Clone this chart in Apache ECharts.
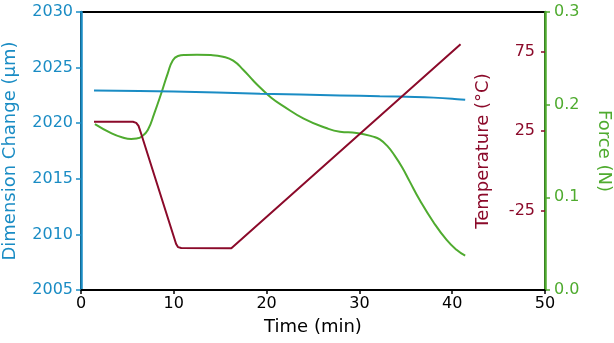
<!DOCTYPE html>
<html>
<head>
<meta charset="utf-8">
<script src="https://cdn.jsdelivr.net/npm/echarts@6/dist/echarts.min.js"></script>
<style>
html,body{margin:0;padding:0;background:#fff;}
#chart{width:614px;height:343px;}
</style>
</head>
<body>
<div id="chart"></div>
<script>
// ---- Data ----
const dimTime  = [1.4, 10, 19.3, 27.9, 32.2, 36, 38, 40, 41.4];
const dimValue = [2022.95, 2022.85, 2022.65, 2022.5, 2022.42, 2022.36, 2022.3, 2022.2, 2022.1];

const tempTime  = [1.4, 5.6, 5.95, 6.2, 6.45, 10.25, 10.45, 10.8, 16.2, 40.9];
const tempValue = [30.9, 30.9, 30.2, 28.3, 24.0, -46.0, -48.0, -48.6, -48.7, 79.7];

const forceTime  = [1.5, 3.3, 4.5, 5.4, 6.0, 6.5, 7.2, 7.9, 8.65, 9.35, 9.9, 10.45, 11.2, 12.5, 14, 15.3, 16.4, 17.5, 18.6, 19.3, 20.5, 21.8, 24.0, 26.5, 27.9, 29.7, 31.5, 32.2, 33.0, 33.8, 34.6, 35.4, 36.5, 37.95, 39.4, 40.5, 41.4];
const forceValue = [0.179, 0.169, 0.1645, 0.163, 0.1635, 0.1654, 0.1727, 0.1907, 0.2123, 0.2338, 0.248, 0.2525, 0.2536, 0.2538, 0.2535, 0.2518, 0.2475, 0.2374, 0.2255, 0.2185, 0.2075, 0.1985, 0.185, 0.1745, 0.1708, 0.1695, 0.1655, 0.1625, 0.1555, 0.145, 0.1325, 0.1175, 0.0971, 0.0737, 0.054, 0.0432, 0.037];

const tempTicks = [-25, 25, 75];

const BLUE = '#1a8cc4';
const RED = '#8b0a2a';
const GREEN = '#4fab2f';
const FONT = 'DejaVu Sans';

const pairs = (xs, ys) => xs.map((x, i) => [x, ys[i]]);

const chart = echarts.init(document.getElementById('chart'), null, {renderer: 'canvas'});
chart.setOption({
  animation: false,
  textStyle: {fontFamily: FONT},
  grid: {left: 81, right: 69, top: 12, bottom: 53, containLabel: false, outerBoundsMode: 'none',
         show: true, borderColor: '#000', borderWidth: 2, backgroundColor: 'transparent'},
  xAxis: {
    type: 'value', min: 0, max: 50, interval: 10,
    name: 'Time (min)', nameLocation: 'middle', nameGap: 28,
    nameTextStyle: {color: '#000', fontSize: 18, fontFamily: FONT},
    axisLine: {onZero: false, lineStyle: {color: '#000', width: 2}},
    axisTick: {length: 4, lineStyle: {color: '#000', width: 1.5}},
    axisLabel: {color: '#000', fontSize: 16, margin: 6, fontFamily: FONT},
    splitLine: {show: false}
  },
  yAxis: [
    {
      type: 'value', position: 'left', min: 2005, max: 2030, interval: 5,
      name: 'Dimension Change (µm)', nameLocation: 'middle', nameGap: 62,
      nameTextStyle: {color: BLUE, fontSize: 18, fontFamily: FONT},
      axisLine: {show: true, onZero: false, lineStyle: {color: BLUE, width: 2.5}},
      axisTick: {show: true, length: 5, lineStyle: {color: BLUE, width: 1.5}},
      axisLabel: {color: BLUE, fontSize: 16, margin: 8, fontFamily: FONT, formatter: v => String(v)},
      splitLine: {show: false}
    },
    {
      type: 'value', position: 'right', min: -75, max: 100, interval: 50,
      name: 'Temperature (°C)', nameLocation: 'middle', nameGap: -71, nameRotate: 90,
      nameTextStyle: {color: RED, fontSize: 18, fontFamily: FONT},
      axisLine: {show: false, onZero: false},
      axisTick: {show: true, inside: true, length: 4, customValues: tempTicks, lineStyle: {color: RED, width: 1.5}},
      axisLabel: {inside: true, color: RED, fontSize: 16, margin: 10, customValues: tempTicks, fontFamily: FONT},
      splitLine: {show: false}
    },
    {
      type: 'value', position: 'right', min: 0, max: 0.3, interval: 0.1,
      name: 'Force (N)', nameLocation: 'middle', nameGap: 50, nameRotate: -90,
      nameTextStyle: {color: GREEN, fontSize: 18, fontFamily: FONT},
      axisLine: {show: true, onZero: false, lineStyle: {color: GREEN, width: 2.5}},
      axisTick: {show: true, length: 5, lineStyle: {color: GREEN, width: 1.5}},
      axisLabel: {color: GREEN, fontSize: 16, margin: 9, fontFamily: FONT, formatter: v => v.toFixed(1)},
      splitLine: {show: false}
    }
  ],
  series: [
    {
      name: 'Force', type: 'line', yAxisIndex: 2, showSymbol: false, smooth: 0.5,
      lineStyle: {color: GREEN, width: 2}, data: pairs(forceTime, forceValue)
    },
    {
      name: 'Dimension', type: 'line', yAxisIndex: 0, showSymbol: false, smooth: 0.3,
      lineStyle: {color: BLUE, width: 2}, data: pairs(dimTime, dimValue)
    },
    {
      name: 'Temperature', type: 'line', yAxisIndex: 1, showSymbol: false,
      lineStyle: {color: RED, width: 2}, data: pairs(tempTime, tempValue)
    }
  ]
});
</script>
</body>
</html>
